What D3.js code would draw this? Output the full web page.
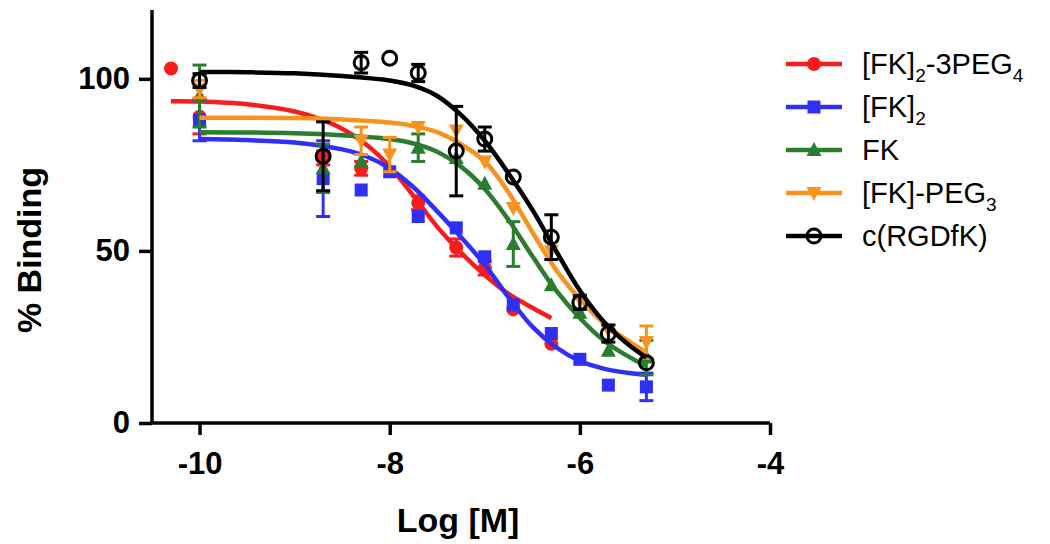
<!DOCTYPE html>
<html><head><meta charset="utf-8">
<script src="https://cdn.jsdelivr.net/npm/d3@7"></script>
<style>body{margin:0;background:#fff}svg{display:block}</style>
</head><body><svg id="c" width="1050" height="544"></svg>
<script>
// ---- data ----
const seriesNames = ["[FK]2-3PEG4", "[FK]2", "FK", "[FK]-PEG3", "c(RGDfK)"];
const xTicks = [-10, -8, -6, -4];
const yTicks = [0, 50, 100];

const redX = [-10.3, -10, -8.7, -8.3, -7.7, -7.3, -7, -6.7, -6.3];
const redY = [103, 89, 77, 74, 64, 51, 45, 33, 23];
const redErr = [0, 5, 2, 2, 2, 2.5, 2, 0, 0];
const redCurveX = [-10.3, -10, -9.5, -9, -8.75, -8.5, -8.25, -8, -7.75, -7.5, -7.25, -7, -6.75, -6.5, -6.3];
const redCurveY = [93.5, 93.4, 92.6, 90.5, 88.5, 85.5, 81, 74.5, 66, 57, 49.5, 43, 37.5, 33.5, 30.5];

const blueX = [-10, -8.7, -8.3, -8, -7.7, -7.3, -7, -6.7, -6.3, -6, -5.7, -5.3];
const blueY = [88, 71, 67.7, 73, 60, 56.7, 48.3, 34.3, 26, 18.5, 11, 10.5];
const blueErr = [6, 11, 0, 0, 0, 0, 0, 0, 0, 0, 0, 4];
const blueCurveX = [-10, -9.5, -9, -8.5, -8.25, -8, -7.75, -7.5, -7.25, -7, -6.75, -6.5, -6.25, -6, -5.75, -5.5, -5.3];
const blueCurveY = [82.5, 82.2, 81.5, 79.5, 77.5, 74, 68.5, 61.5, 54, 46, 36.5, 28, 22, 18, 15.8, 14.6, 14];

const greenX = [-10, -8.7, -8.3, -7.7, -7.3, -7, -6.7, -6.3, -6, -5.7, -5.3];
const greenY = [95, 74, 76, 80, 77, 69.5, 52, 40, 32, 21, 19];
const greenErr = [9, 7, 0, 4, 0, 0, 6.5, 0, 0, 0, 5];
const greenCurveX = [-10, -9, -8.5, -8, -7.75, -7.5, -7.25, -7, -6.75, -6.5, -6.25, -6, -5.75, -5.5, -5.3];
const greenCurveY = [84.5, 84.2, 83.6, 82.5, 81.2, 78.8, 74.5, 68, 59, 48.5, 38.5, 30.5, 24, 19.5, 16.5];

const orangeX = [-10, -8.3, -8, -7.7, -7.3, -7, -6.7, -6.3, -6, -5.7, -5.3];
const orangeY = [97, 82, 78, 86, 85, 76, 62.5, 50, 36, 27, 23.5];
const orangeErr = [2.5, 4, 5, 0, 0, 0, 0, 0, 0, 0, 4.7];
const orangeCurveX = [-10, -9, -8.5, -8, -7.75, -7.5, -7.25, -7, -6.75, -6.5, -6.25, -6, -5.75, -5.5, -5.3];
const orangeCurveY = [88.7, 88.6, 88.2, 87.3, 86.3, 84.5, 81, 76, 67, 55.5, 44.5, 36, 29, 24, 20.5];

const blackX = [-10, -8.7, -8.3, -8, -7.7, -7.3, -7, -6.7, -6.3, -6, -5.7, -5.3];
const blackY = [99.5, 77.5, 104.7, 106, 101.7, 79, 82.5, 71.5, 54, 35, 26, 17.5];
const blackErr = [2, 10, 3, 0, 2.5, 13, 3.5, 0, 6.5, 2, 2.5, 0];
const blackCurveX = [-10, -9.5, -9, -8.5, -8, -7.75, -7.5, -7.25, -7, -6.75, -6.5, -6.25, -6, -5.75, -5.5, -5.3];
const blackCurveY = [102, 101.9, 101.6, 100.8, 99.5, 98, 95, 89.5, 82, 72.5, 62, 50, 38.5, 29.5, 23, 19];

// ---- build ----
const colors = ["#f81d1d", "#3030f5", "#2a7d2e", "#f7931e", "#000000"];
const shapes = ["dot", "square", "tri", "itri", "ring"];
const series = [
  {x: redX, y: redY, e: redErr, cx: redCurveX, cy: redCurveY},
  {x: blueX, y: blueY, e: blueErr, cx: blueCurveX, cy: blueCurveY},
  {x: greenX, y: greenY, e: greenErr, cx: greenCurveX, cy: greenCurveY},
  {x: orangeX, y: orangeY, e: orangeErr, cx: orangeCurveX, cy: orangeCurveY},
  {x: blackX, y: blackY, e: blackErr, cx: blackCurveX, cy: blackCurveY}
].map((s, i) => ({...s, name: seriesNames[i], color: colors[i], shape: shapes[i]}));

const svg = d3.select("#c");
const x = d3.scaleLinear().domain([-10.5, -4]).range([152, 770]);
const y = d3.scaleLinear().domain([0, 120]).range([423, 10]);
const FONT = "'Liberation Sans', Arial, sans-serif";

function marker(g, shape, color, cx, cy) {
  if (shape === "dot") g.append("circle").attr("cx", cx).attr("cy", cy).attr("r", 7).attr("fill", color);
  else if (shape === "square") g.append("rect").attr("x", cx - 6.5).attr("y", cy - 6.5).attr("width", 13).attr("height", 13).attr("fill", color);
  else if (shape === "tri") g.append("path").attr("d", `M${cx},${cy - 8}L${cx + 7.5},${cy + 6}L${cx - 7.5},${cy + 6}Z`).attr("fill", color);
  else if (shape === "itri") g.append("path").attr("d", `M${cx},${cy + 8}L${cx + 7.5},${cy - 6}L${cx - 7.5},${cy - 6}Z`).attr("fill", color);
  else g.append("circle").attr("cx", cx).attr("cy", cy).attr("r", 7).attr("fill", "none").attr("stroke", color).attr("stroke-width", 3);
}

const plot = svg.append("g");
const line = d3.line().x(d => x(d[0])).y(d => y(d[1])).curve(d3.curveCatmullRom.alpha(0.5));

series.forEach(s => {
  const g = plot.append("g");
  s.x.forEach((xv, i) => {
    if (!s.e[i]) return;
    const px = x(xv), y1 = y(s.y[i] + s.e[i]), y2 = y(s.y[i] - s.e[i]);
    g.append("line").attr("x1", px).attr("x2", px).attr("y1", y1).attr("y2", y2).attr("stroke", s.color).attr("stroke-width", 3);
    [y1, y2].forEach(yy => g.append("line").attr("x1", px - 7).attr("x2", px + 7).attr("y1", yy).attr("y2", yy).attr("stroke", s.color).attr("stroke-width", 3));
  });
  g.append("path").datum(s.cx.map((v, i) => [v, s.cy[i]])).attr("d", line)
    .attr("fill", "none").attr("stroke", s.color).attr("stroke-width", 4.5);
  s.x.forEach((xv, i) => marker(g, s.shape, s.color, x(xv), y(s.y[i])));
});

// axes
const xAxis = svg.append("g").attr("transform", "translate(0,423)")
  .call(d3.axisBottom(x).tickValues(xTicks).tickSize(12).tickSizeOuter(0).tickFormat(d3.format("d")));
const yAxis = svg.append("g").attr("transform", "translate(152,0)")
  .call(d3.axisLeft(y).tickValues(yTicks).tickSize(13).tickSizeOuter(0));
[xAxis, yAxis].forEach(a => {
  a.select(".domain").attr("stroke", "#000").attr("stroke-width", 3.5);
  a.selectAll(".tick line").attr("stroke", "#000").attr("stroke-width", 3.5);
  a.selectAll("text").attr("font-family", FONT).attr("font-weight", "bold").attr("font-size", 31).attr("fill", "#000");
});
xAxis.select(".domain").attr("d", "M152,0H770");
yAxis.select(".domain").attr("d", "M0,10V423");
xAxis.selectAll("text").attr("dy", "1.15em").text(d => d < 0 ? "-" + Math.abs(d) : d);
yAxis.selectAll("text").attr("x", -22);

svg.append("text").attr("x", 458).attr("y", 532).attr("text-anchor", "middle")
  .attr("font-family", FONT).attr("font-weight", "bold").attr("font-size", 34).text("Log [M]");
svg.append("text").attr("transform", "translate(41,250) rotate(-90)").attr("text-anchor", "middle")
  .attr("font-family", FONT).attr("font-weight", "bold").attr("font-size", 34).text("% Binding");

// legend
const legendParts = [
  [["[FK]", 0], ["2", 1], ["-3PEG", 0], ["4", 1]],
  [["[FK]", 0], ["2", 1]],
  [["FK", 0]],
  [["[FK]-PEG", 0], ["3", 1]],
  [["c(RGDfK)", 0]]
];
const legY = d3.scaleLinear().domain([0, 4]).range([64, 236]);
series.forEach((s, i) => {
  const g = svg.append("g");
  const ly = legY(i);
  g.append("line").attr("x1", 786).attr("x2", 842).attr("y1", ly).attr("y2", ly).attr("stroke", s.color).attr("stroke-width", 4.5);
  marker(g, s.shape, s.color, 814, ly);
  const t = g.append("text").attr("x", 862).attr("y", ly + 10).attr("font-family", FONT).attr("font-size", 29).attr("fill", "#000");
  legendParts[i].forEach(([txt, sub]) => {
    const ts = t.append("tspan").text(txt);
    if (sub) ts.attr("font-size", 19).attr("dy", 8);
    else if (t.selectAll("tspan").size() > 1) ts.attr("dy", -8);
  });
});
</script></body></html>
